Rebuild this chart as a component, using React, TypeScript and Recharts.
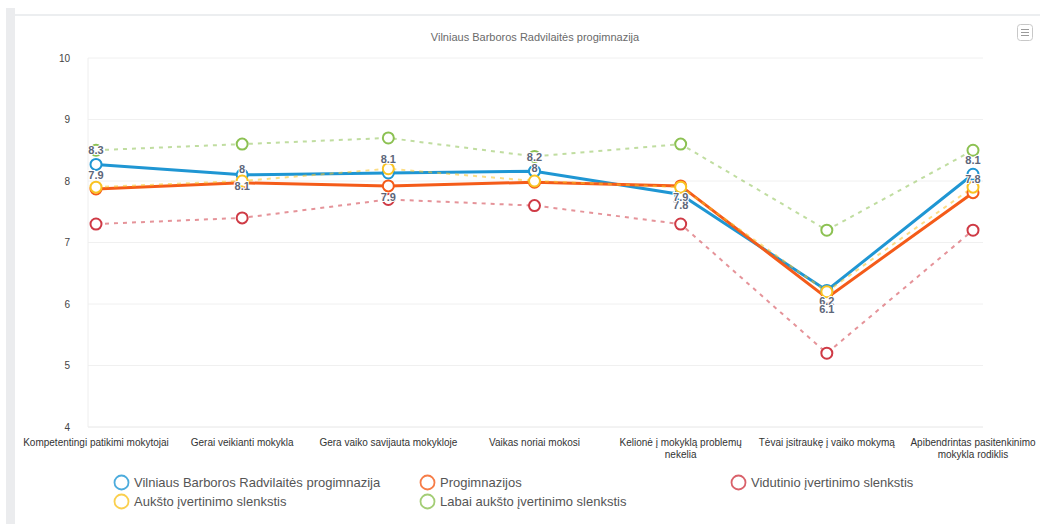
import { LineChart, Line, XAxis, YAxis, CartesianGrid, LabelList } from "recharts";

const categories = [
  "Kompetentingi patikimi mokytojai",
  "Gerai veikianti mokykla",
  "Gera vaiko savijauta mokykloje",
  "Vaikas noriai mokosi",
  "Kelionė į mokyklą problemų nekelia",
  "Tėvai įsitraukę į vaiko mokymą",
  "Apibendrintas pasitenkinimo mokykla rodiklis",
];

const vilniaus = [8.27, 8.1, 8.13, 8.16, 7.78, 6.22, 8.11];
const progimnazijos = [7.87, 7.97, 7.92, 7.98, 7.92, 6.1, 7.81];
const vidutinio = [7.3, 7.4, 7.7, 7.6, 7.3, 5.2, 7.2];
const auksto = [7.9, 8.0, 8.2, 8.0, 7.9, 6.2, 7.9];
const labaiAuksto = [8.5, 8.6, 8.7, 8.4, 8.6, 7.2, 8.5];

const yTicks = [4, 5, 6, 7, 8, 9, 10];

const data = categories.map((name, i) => ({
  name,
  vilniaus: vilniaus[i],
  progimnazijos: progimnazijos[i],
  vidutinio: vidutinio[i],
  auksto: auksto[i],
  labaiAuksto: labaiAuksto[i],
}));

// which side of the point the data label sits on
const blueSides = ["up", "down", "up", "up", "down", "down", "up"];
const orangeSides = ["up", "up", "down", "up", "down", "down", "up"];

const series = [
  { key: "vilniaus", name: "Vilniaus Barboros Radvilaitės progimnazija", color: "#1f96d3", dashed: false },
  { key: "progimnazijos", name: "Progimnazijos", color: "#f45b19", dashed: false },
  { key: "vidutinio", name: "Vidutinio įvertinimo slenkstis", color: "#cf3a45", dashed: true },
  { key: "auksto", name: "Aukšto įvertinimo slenkstis", color: "#f9c322", dashed: true },
  { key: "labaiAuksto", name: "Labai aukšto įvertinimo slenkstis", color: "#8cc152", dashed: true },
];

const font = "'Liberation Sans', Arial, sans-serif";

const fmt = (v: number) => String(Number(v.toFixed(1)));

let ctx: CanvasRenderingContext2D | null = null;
function wrap(label: string, maxWidth: number) {
  if (!ctx) {
    ctx = document.createElement("canvas").getContext("2d");
    if (ctx) ctx.font = `10px ${font}`;
  }
  const words = label.split(" ");
  const lines: string[] = [];
  let cur = "";
  for (const w of words) {
    const next = cur ? cur + " " + w : w;
    if (cur && ctx && ctx.measureText(next).width > maxWidth) {
      lines.push(cur);
      cur = w;
    } else {
      cur = next;
    }
  }
  if (cur) lines.push(cur);
  return lines;
}

function makeLabel(sides: string[]) {
  return (props: any) => {
    const { x, y, value, index } = props;
    const up = sides[index] !== "down";
    return (
      <text
        x={x}
        y={up ? y - 13 : y + 12}
        textAnchor="middle"
        dominantBaseline="middle"
        fontFamily={font}
        fontSize={11}
        fontWeight="bold"
        fill="#5d6679"
        stroke="#fff"
        strokeWidth={2}
        paintOrder="stroke"
      >
        {fmt(value)}
      </text>
    );
  };
}

function makeDot(color: string) {
  return (props: any) => {
    const { cx, cy, index } = props;
    return <circle key={index} cx={cx} cy={cy} r={5.5} fill="#fff" stroke={color} strokeWidth={2} />;
  };
}

function XTick(props: any) {
  const { x, y, payload } = props;
  const lines = wrap(payload.value, 156);
  return (
    <text x={x} y={y + 11} textAnchor="middle" fontFamily={font} fontSize={10} fill="#333">
      {lines.map((l, i) => (
        <tspan key={i} x={x} dy={i === 0 ? 0 : 12}>
          {l}
        </tspan>
      ))}
    </text>
  );
}

export default function App() {
  return (
    <div style={{ position: "absolute", left: 0, top: 0, width: 1040, height: 524, background: "#fff", fontFamily: font }}>
      <div style={{ position: "absolute", left: 6, top: 8, width: 9, height: 516, background: "#ebecee" }} />
      <div style={{ position: "absolute", left: 15, top: 14, width: 1025, height: 2, background: "#eceef0" }} />
      <div
        style={{
          position: "absolute",
          top: 31,
          left: 0,
          width: 1070,
          textAlign: "center",
          fontSize: 11,
          color: "#6a6a6a",
        }}
      >
        Vilniaus Barboros Radvilaitės progimnazija
      </div>
      <svg style={{ position: "absolute", left: 1017, top: 24 }} width={16} height={17}>
        <rect x={0.5} y={0.5} width={15} height={16} rx={3} fill="#fff" stroke="#c8c8c8" />
        <line x1={4} x2={12} y1={5.5} y2={5.5} stroke="#9a9a9a" />
        <line x1={4} x2={12} y1={8.5} y2={8.5} stroke="#9a9a9a" />
        <line x1={4} x2={12} y1={11.5} y2={11.5} stroke="#9a9a9a" />
      </svg>
      <div style={{ position: "absolute", left: 0, top: 0 }}>
        <LineChart width={1040} height={480} data={data} margin={{ top: 58, right: 57, left: 28, bottom: 0 }}>
          <CartesianGrid stroke="#f0f0f0" vertical={false} />
          <XAxis
            dataKey="name"
            height={53}
            padding={{ left: 8, right: 10 }}
            axisLine={{ stroke: "#eeeeee" }}
            tickLine={false}
            tick={<XTick />}
            interval={0}
          />
          <YAxis
            domain={[4, 10]}
            ticks={yTicks}
            width={60}
            axisLine={{ stroke: "#eeeeee" }}
            tickLine={false}
            tick={{ fill: "#444", fontSize: 10, fontFamily: font }}
            tickMargin={12}
          />
          <YAxis
            yAxisId="r"
            orientation="right"
            width={0}
            domain={[4, 10]}
            axisLine={{ stroke: "#eeeeee" }}
            tick={false}
            tickLine={false}
          />
          {series.map((s) => (
            <Line
              key={s.key}
              dataKey={s.key}
              name={s.name}
              type="linear"
              stroke={s.color}
              strokeOpacity={s.dashed ? 0.55 : 1}
              strokeWidth={s.dashed ? 2 : 3}
              strokeDasharray={s.dashed ? "4 5" : undefined}
              dot={makeDot(s.color)}
              activeDot={false}
              isAnimationActive={false}
            >
              {s.key === "vilniaus" && <LabelList dataKey={s.key} content={makeLabel(blueSides)} />}
              {s.key === "progimnazijos" && <LabelList dataKey={s.key} content={makeLabel(orangeSides)} />}
            </Line>
          ))}
        </LineChart>
      </div>
      {series.map((s, i) => {
        const col = i < 3 ? i : i - 3;
        const row = i < 3 ? 0 : 1;
        const lefts = [113, 419, 730];
        return (
          <div
            key={s.key}
            style={{
              position: "absolute",
              left: lefts[col],
              top: 474 + row * 19,
              display: "flex",
              alignItems: "center",
              fontSize: 13,
              color: "#555",
              whiteSpace: "nowrap",
            }}
          >
            <svg width={17} height={17} style={{ marginRight: 4 }}>
              <circle cx={8.5} cy={8.5} r={7} fill="#fff" stroke={s.color} strokeOpacity={0.8} strokeWidth={1.8} />
            </svg>
            {s.name}
          </div>
        );
      })}
    </div>
  );
}
